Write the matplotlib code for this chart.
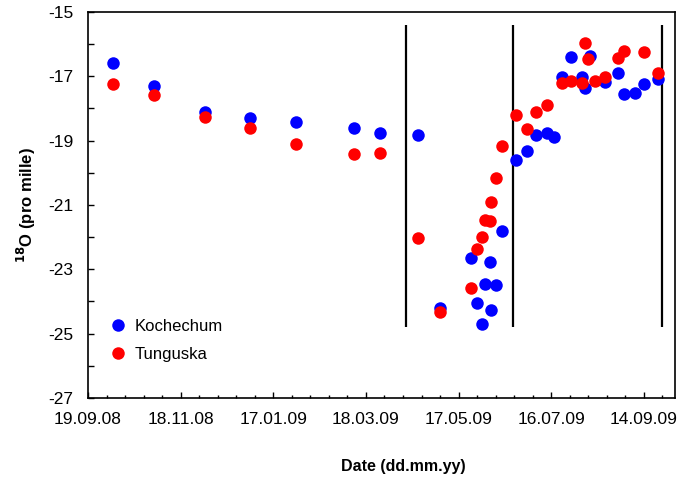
import matplotlib
matplotlib.use("Agg")
import matplotlib.pyplot as plt
import matplotlib.dates as mdates
import numpy as np

plt.rcParams['font.family'] = ['Liberation Sans', 'DejaVu Sans']
plt.rcParams['axes.unicode_minus'] = False

# Kochechum (blue)
koch_dates = ["2008-10-05", "2008-11-01", "2008-12-04", "2009-01-02", "2009-02-01",
              "2009-03-10", "2009-03-27", "2009-04-21", "2009-05-05", "2009-05-25",
              "2009-05-29", "2009-06-01", "2009-06-03", "2009-06-06", "2009-06-07",
              "2009-06-10", "2009-06-14", "2009-06-23", "2009-06-30", "2009-07-06",
              "2009-07-13", "2009-07-18", "2009-07-23", "2009-07-29", "2009-08-05",
              "2009-08-07", "2009-08-10", "2009-08-20", "2009-08-28", "2009-09-01",
              "2009-09-08", "2009-09-14", "2009-09-23"]
koch_vals = [-16.58, -17.30, -18.10, -18.30, -18.42,
             -18.60, -18.75, -18.82, -24.21, -22.64,
             -24.04, -24.70, -23.46, -22.78, -24.26,
             -23.49, -21.82, -19.61, -19.32, -18.82,
             -18.77, -18.89, -17.01, -16.41, -17.03,
             -17.35, -16.36, -17.17, -16.89, -17.55,
             -17.51, -17.25, -17.08]

# Tunguska (red)
tung_dates = ["2008-10-05", "2008-11-01", "2008-12-04", "2009-01-02", "2009-02-01",
              "2009-03-10", "2009-03-27", "2009-04-21", "2009-05-05", "2009-05-25",
              "2009-05-29", "2009-06-01", "2009-06-03", "2009-06-06", "2009-06-07",
              "2009-06-10", "2009-06-14", "2009-06-23", "2009-06-30", "2009-07-06",
              "2009-07-13", "2009-07-23", "2009-07-29", "2009-08-05", "2009-08-07",
              "2009-08-09", "2009-08-13", "2009-08-20", "2009-08-28", "2009-09-01",
              "2009-09-14", "2009-09-23"]
tung_vals = [-17.25, -17.58, -18.25, -18.62, -19.09,
             -19.42, -19.39, -22.03, -24.33, -23.59,
             -22.38, -22.00, -21.47, -21.50, -20.91,
             -20.17, -19.16, -18.20, -18.65, -18.10,
             -17.89, -17.22, -17.15, -17.22, -15.95,
             -16.46, -17.15, -17.03, -16.44, -16.21,
             -16.25, -16.91]

# period boundaries
vline_dates = ["2009-04-13", "2009-06-21", "2009-09-26"]
vline_top, vline_bottom = -15.4, -24.8

x_start, x_end = "2008-09-19", "2009-10-04"

kd = np.array(koch_dates, dtype="datetime64[D]")
td = np.array(tung_dates, dtype="datetime64[D]")
vd = np.array(vline_dates, dtype="datetime64[D]")

fig = plt.figure(figsize=(6.9, 4.78), dpi=100)
ax = fig.add_axes([0.1275, 0.1674, 0.8505, 0.8075])

ax.vlines(vd, vline_bottom, vline_top, colors="black", linewidth=1.6)
ax.plot(kd, koch_vals, "o", color="#0000ff", ms=9, mec="none", label="Kochechum")
ax.plot(td, tung_vals, "o", color="#ff0000", ms=9, mec="none", label="Tunguska")

x0 = mdates.date2num(np.datetime64(x_start))
x1 = mdates.date2num(np.datetime64(x_end))
ax.set_xlim(x0, x1)
ax.set_ylim(-27, -15)
ax.xaxis.set_major_locator(plt.FixedLocator(np.arange(x0, x0 + 361, 60)))
ax.xaxis.set_minor_locator(plt.FixedLocator(np.arange(x0, x1 + 1, 12)))
ax.xaxis.set_major_formatter(mdates.DateFormatter("%d.%m.%y"))
ax.set_yticks(np.arange(-27, -14, 2))
ax.set_yticks(np.arange(-26, -15, 2), minor=True)

ax.tick_params(which="both", direction="in", top=False, right=False, labelsize=12.5,
               width=1.0, color="black")
ax.tick_params(axis="x", which="major", length=4.5, pad=10)
ax.tick_params(axis="x", which="minor", length=2.5)
ax.tick_params(axis="y", which="both", length=4, pad=10.5)
for s in ax.spines.values():
    s.set_linewidth(1.2)

ax.set_xlabel("Date (dd.mm.yy)", fontsize=11.5, fontweight="bold")
ax.xaxis.set_label_coords(0.537, -0.158)
ax.set_ylabel("$^{\\mathbf{18}}$O (pro mille)", fontsize=12, fontweight="bold")
ax.yaxis.set_label_coords(-0.085, 0.5)

ax.legend(loc="lower left", bbox_to_anchor=(0.003, 0.064), frameon=False, fontsize=12,
          handletextpad=0.0, labelspacing=0.77, borderaxespad=0.3, markerscale=1.0)

fig.savefig("out.png", dpi=100)
